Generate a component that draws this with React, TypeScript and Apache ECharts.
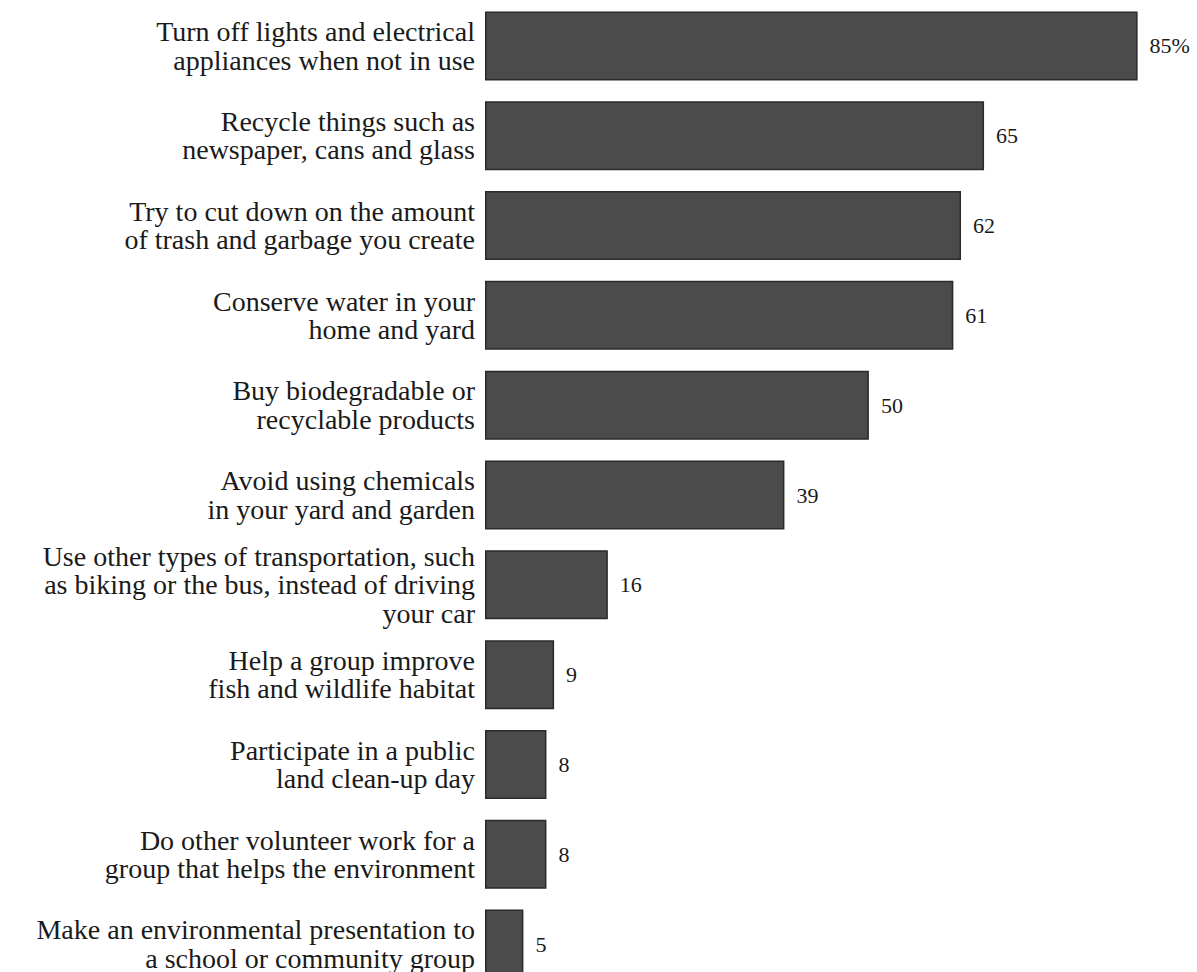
import React, { useEffect, useRef } from "react";
import * as echarts from "echarts";

const categories: string[] = [
  "Turn off lights and electrical\nappliances when not in use",
  "Recycle things such as\nnewspaper, cans and glass",
  "Try to cut down on the amount\nof trash and garbage you create",
  "Conserve water in your\nhome and yard",
  "Buy biodegradable or\nrecyclable products",
  "Avoid using chemicals\nin your yard and garden",
  "Use other types of transportation, such\nas biking or the bus, instead of driving\nyour car",
  "Help a group improve\nfish and wildlife habitat",
  "Participate in a public\nland clean-up day",
  "Do other volunteer work for a\ngroup that helps the environment",
  "Make an environmental presentation to\na school or community group",
];

const values: number[] = [85, 65, 62, 61, 50, 39, 16, 9, 8, 8, 5];
const valueLabels: string[] = ["85%", "65", "62", "61", "50", "39", "16", "9", "8", "8", "5"];

export default function App() {
  const ref = useRef<HTMLDivElement>(null);
  useEffect(() => {
    if (!ref.current) return;
    const chart = echarts.init(ref.current, null, { renderer: "svg" });
    chart.setOption({
      animation: false,
      backgroundColor: "#ffffff",
      grid: { left: 485, right: 21, top: 1, bottom: 0, containLabel: false },
      xAxis: {
        type: "value",
        min: 0,
        max: 90,
        show: false,
      },
      yAxis: {
        type: "category",
        inverse: true,
        data: categories,
        axisLine: { show: false },
        axisTick: { show: false },
        splitLine: { show: false },
        axisLabel: {
          margin: 10,
          align: "right",
          fontFamily: "'Liberation Serif', 'Times New Roman', serif",
          fontSize: 28,
          lineHeight: 28.5,
          color: "#1a1a1a",
        },
      },
      series: [
        {
          type: "bar",
          data: values,
          barWidth: 69,
          itemStyle: {
            color: "#4b4b4b",
            borderColor: "#2a2a2a",
            borderWidth: 1.5,
          },
          label: {
            show: true,
            position: "right",
            distance: 12,
            fontFamily: "'Liberation Serif', 'Times New Roman', serif",
            fontSize: 22,
            color: "#1a1a1a",
            formatter: (p: any) => valueLabels[p.dataIndex],
          },
        },
      ],
    });
    return () => chart.dispose();
  }, []);
  return (
    <div
      ref={ref}
      style={{ position: "fixed", left: 0, top: 0, width: 1197, height: 989, background: "#fff" }}
    />
  );
}
